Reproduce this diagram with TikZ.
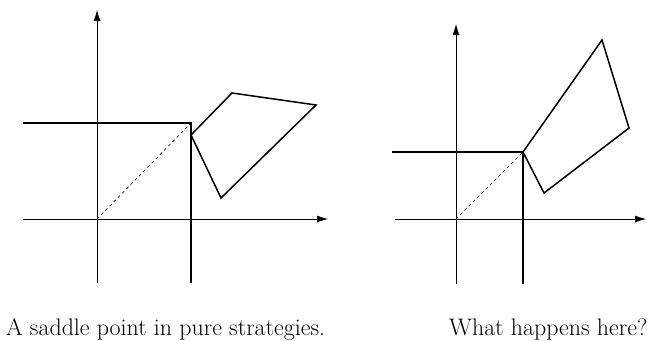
\documentclass[tikz,border=0pt]{standalone}
\usepackage{fontspec}
\usetikzlibrary{arrows.meta}
\begin{document}
\begin{tikzpicture}[x=1bp,y=-1bp,
  axis/.style={line width=0.7bp,-{Latex[length=11bp,width=7bp]}},
  bound/.style={line width=1.5bp},
  region/.style={line width=1.5bp,line join=miter},
  diag/.style={line width=0.6bp,dashed,dash pattern=on 3bp off 3bp},
  caption/.style={anchor=base west,inner sep=0pt,font=\fontsize{24}{28}\selectfont}]
\useasboundingbox (0,0) rectangle (671,340);
% left picture
\coordinate (Lo) at (97,219);
\coordinate (Lyb) at (97,283);
\coordinate (Lyt) at (97,10);
\coordinate (Lxl) at (23,219);
\coordinate (Lxr) at (328,219);
\coordinate (Lhl) at (23,123);
\coordinate (Lc) at (191,123);
\coordinate (Lvb) at (191,283);
\coordinate (Lp1) at (191,135);
\coordinate (Lp2) at (232,93);
\coordinate (Lp3) at (316,105);
\coordinate (Lp4) at (221,198);
\draw[axis] (Lyb) -- (Lyt);
\draw[axis] (Lxl) -- (Lxr);
\draw[bound] (Lhl) -- (Lc) -- (Lvb);
\draw[diag] (Lo) -- (Lc);
\draw[region] (Lp1) -- (Lp2) -- (Lp3) -- (Lp4) -- cycle;
% right picture
\coordinate (Ro) at (456,219);
\coordinate (Ryb) at (456,284);
\coordinate (Ryt) at (456,24);
\coordinate (Rxl) at (395,219);
\coordinate (Rxr) at (646,219);
\coordinate (Rhl) at (392,152);
\coordinate (Rc) at (523,152);
\coordinate (Rvb) at (523,284);
\coordinate (Rp2) at (602,40);
\coordinate (Rp3) at (629,128);
\coordinate (Rp4) at (544,193);
\draw[axis] (Ryb) -- (Ryt);
\draw[axis] (Rxl) -- (Rxr);
\draw[bound] (Rhl) -- (Rc) -- (Rvb);
\draw[diag] (Ro) -- (Rc);
\draw[region] (Rc) -- (Rp2) -- (Rp3) -- (Rp4) -- cycle;
% captions
\node[caption] (capL) at (6,335) {A saddle point in pure strategies.};
\node[caption] (capR) at (449,335) {What happens here?};
\end{tikzpicture}
\end{document}
